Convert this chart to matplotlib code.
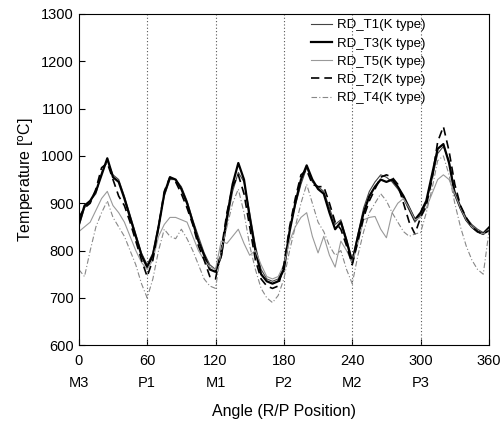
import numpy as np
import matplotlib.pyplot as plt

plt.rcParams['font.family'] = ['Liberation Sans', 'DejaVu Sans']

angle = np.arange(0, 361, 5)

rd_t1 = [850, 890, 905, 920, 965, 990, 960, 950, 915, 875, 835, 795, 770, 795, 855, 915,
         950, 950, 935, 905, 865, 830, 795, 770, 760, 785, 860, 925, 965, 945, 880, 810,
         760, 740, 735, 740, 765, 845, 895, 940, 975, 945, 935, 925, 890, 855, 865, 825,
         780, 835, 890, 925, 945, 960, 955, 945, 930, 910, 885, 860, 875, 900, 950, 1005,
         1020, 990, 925, 895, 870, 855, 845, 838, 850]
rd_t3 = [855, 895, 905, 925, 960, 995, 955, 945, 910, 870, 830, 790, 765, 790, 850, 920,
         955, 950, 930, 900, 860, 820, 790, 760, 755, 790, 870, 940, 985, 950, 870, 800,
         750, 735, 730, 735, 760, 840, 900, 950, 980, 950, 930, 920, 880, 845, 860, 820,
         775, 830, 880, 915, 935, 950, 945, 950, 935, 915, 890, 865, 880, 905, 960, 1015,
         1025, 985, 920, 890, 865, 850, 840, 835, 848]
rd_t5 = [840, 850, 860, 885, 910, 925, 895, 880, 860, 830, 800, 775, 760, 780, 830, 855,
         870, 870, 865, 860, 830, 800, 780, 765, 760, 820, 815, 830, 845, 815, 790, 800,
         770, 745, 740, 745, 770, 820, 850, 870, 880, 830, 795, 830, 790, 765, 820, 800,
         775, 815, 865, 870, 872, 845, 827, 880, 900, 910, 890, 865, 870, 890, 920, 950,
         960, 950, 920, 890, 865, 850, 840, 835, 845]
rd_t2 = [870, 890, 900, 930, 975, 985, 950, 915, 895, 860, 820, 780, 745, 780, 850, 925,
         955, 945, 920, 890, 855, 810, 780, 745, 740, 800, 880, 935, 960, 920, 850, 780,
         740, 725, 720, 725, 770, 850, 910, 960, 970, 940, 935, 935, 900, 860, 845, 810,
         770, 820, 870, 905, 930, 955, 960, 955, 940, 900, 860, 835, 870, 895, 950, 1030,
         1062, 1010, 940, 895, 870, 850, 840, 835, 842]
rd_t4 = [760, 745, 800, 850, 880, 905, 870, 850, 830, 800, 770, 730, 700, 740, 800, 845,
         830, 825, 845, 825, 800, 770, 740, 725, 720, 800, 850, 900, 930, 880, 810, 760,
         720, 700, 690, 705, 740, 800, 850, 900, 940, 900, 860, 840, 810, 790, 800, 760,
         730, 790, 840, 880, 900, 920, 905, 880, 860, 840, 830, 835, 838, 880, 930, 990,
         1000, 960, 900, 850, 810, 780, 760, 750, 840]

pos_ticks = [0, 60, 120, 180, 240, 300, 360]
pos_names = ['M3', 'P1', 'M1', 'P2', 'M2', 'P3']

fig = plt.figure(figsize=(5.02, 4.23), dpi=100)
ax = fig.add_axes([0.157, 0.184, 0.817, 0.783])

for x in pos_ticks[1:-1]:
    ax.axvline(x, color='#555555', lw=0.8, ls=(0, (1, 2)))

ax.plot(angle, rd_t1, color='#444444', lw=0.8, ls='-', label='RD_T1(K type)')
ax.plot(angle, rd_t3, color='black', lw=1.6, ls='-', label='RD_T3(K type)')
ax.plot(angle, rd_t5, color='#999999', lw=0.8, ls='-', label='RD_T5(K type)')
ax.plot(angle, rd_t2, color='black', lw=1.2, ls=(0, (5, 3)), label='RD_T2(K type)')
ax.plot(angle, rd_t4, color='#888888', lw=0.8, ls=(0, (5, 2, 1, 2)), label='RD_T4(K type)')

ax.set_xlim(0, 360)
ax.set_ylim(600, 1300)
ax.set_xticks(pos_ticks)
ax.set_yticks(np.arange(600, 1301, 100))
ax.tick_params(direction='in', labelsize=10.5, length=4)
ax.tick_params(axis='x', pad=6)

for x, name in zip(pos_ticks, pos_names):
    ax.text(x, -0.115, name, transform=ax.get_xaxis_transform(),
            ha='center', va='center', fontsize=10.5)

ax.set_ylabel('Temperature [$^{\\mathrm{o}}$C]', fontsize=11.5)
ax.set_xlabel('Angle (R/P Position)', fontsize=11.5, labelpad=26)

ax.legend(loc='upper right', bbox_to_anchor=(0.875, 1.02), frameon=False,
          fontsize=9.5, handlelength=1.6, handletextpad=0.4, labelspacing=0.45)

fig.savefig('out.png', dpi=100)
